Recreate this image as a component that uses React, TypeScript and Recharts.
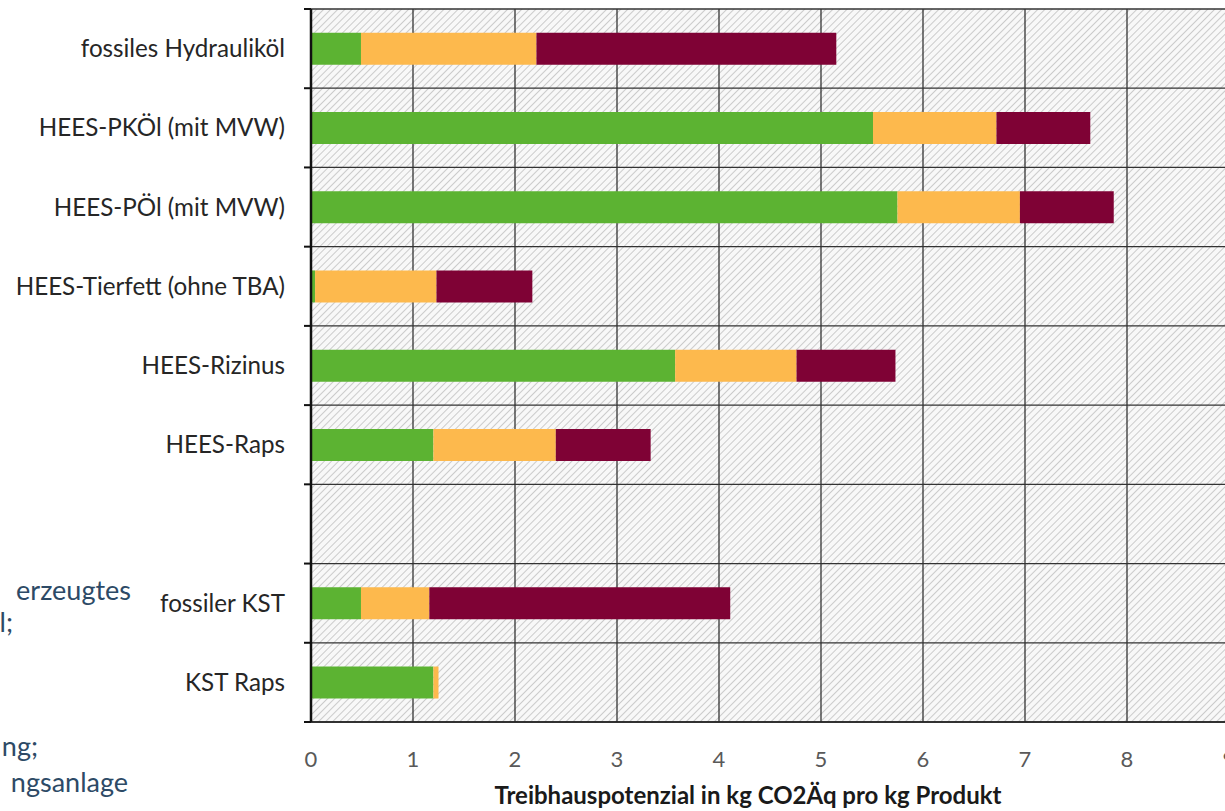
import { Bar, BarChart, CartesianGrid, XAxis, YAxis } from 'recharts'

const categories = [
  'fossiles Hydrauliköl',
  'HEES-PKÖl (mit MVW)',
  'HEES-PÖl (mit MVW)',
  'HEES-Tierfett (ohne TBA)',
  'HEES-Rizinus',
  'HEES-Raps',
  '',
  'fossiler KST',
  'KST Raps',
]

// three stacked shares per product, kg CO2Äq per kg
const anbau = [0.49, 5.51, 5.75, 0.04, 3.57, 1.2, 0, 0.49, 1.2]
const herstellung = [1.72, 1.21, 1.2, 1.19, 1.19, 1.2, 0, 0.67, 0.05]
const entsorgung = [2.94, 0.92, 0.92, 0.94, 0.97, 0.93, 0, 2.95, 0]

const xTicks = [0, 1, 2, 3, 4, 5, 6, 7, 8, 9]

const sideNotes = [
  { text: 'erzeugtes', x: 131, y: 600 },
  { text: 'l;', x: 13, y: 632 },
  { text: 'ng;', x: 38, y: 756 },
  { text: 'ngsanlage', x: 128, y: 792 },
]

const data = categories.map((name, i) => ({
  name,
  anbau: anbau[i],
  herstellung: herstellung[i],
  entsorgung: entsorgung[i],
}))

const FONT = 'Lato, sans-serif'
const TICK_SIZE = 7
const TICK_MARGIN = 19

// category label plus a short tick mark on the band's upper edge
// (and lower edge for the last band)
function CategoryTick(props: any) {
  const { x, y, payload, index } = props
  const axisX = x + TICK_SIZE + TICK_MARGIN
  const half = payload.offset ?? 0
  return (
    <g>
      <line x1={axisX - TICK_SIZE} x2={axisX} y1={y - half} y2={y - half} stroke="#111" strokeWidth={2} />
      {index === categories.length - 1 && (
        <line x1={axisX - TICK_SIZE} x2={axisX} y1={y + half} y2={y + half} stroke="#111" strokeWidth={2} />
      )}
      <text x={x} y={y} dy="0.35em" textAnchor="end" fill="#262626" fontSize={24.2} fontFamily={FONT}>
        {payload.value}
      </text>
    </g>
  )
}

// horizontal grid lines on the band edges of the category axis
function bandEdges({ offset }: any) {
  const step = offset.height / categories.length
  return [...categories.map((_, i) => offset.top + i * step), offset.top + offset.height]
}

export default function App() {
  return (
    <div
      style={{
        position: 'absolute',
        left: 0,
        top: 0,
        width: 1225,
        height: 811,
        overflow: 'hidden',
        background: '#ffffff',
      }}
    >
      <BarChart
        width={1236}
        height={811}
        data={data}
        layout="vertical"
        barCategoryGap="30%"
        margin={{ top: 9, right: 7, bottom: 0, left: 0 }}
      >
        <defs>
          <pattern
            id="hatch"
            width="5"
            height="5"
            patternUnits="userSpaceOnUse"
            patternTransform="rotate(45)"
          >
            <rect width="5" height="5" fill="#f8f8f8" />
            <line x1="0" y1="0" x2="0" y2="5" stroke="#c6c6c6" strokeWidth="1.8" />
          </pattern>
        </defs>
        <CartesianGrid
          fill="url(#hatch)"
          stroke="#333333"
          strokeWidth={1.3}
          horizontalCoordinatesGenerator={bandEdges}
        />
        <XAxis
          type="number"
          domain={[0, 9]}
          ticks={xTicks}
          interval={0}
          height={89}
          stroke="#222222"
          strokeWidth={1.5}
          tickLine={false}
          tickMargin={23}
          tick={{ fill: '#595959', fontSize: 22, fontFamily: FONT }}
          label={{
            content: ({ viewBox }: any) => (
              <text
                x={viewBox.x + viewBox.width / 2 - 22}
                y={viewBox.y + viewBox.height - 7}
                textAnchor="middle"
                fill="#1a1a1a"
                fontSize={24}
                fontWeight="bold"
                fontFamily={FONT}
              >
                Treibhauspotenzial in kg CO2Äq pro kg Produkt
              </text>
            ),
          }}
        />
        <YAxis
          type="category"
          dataKey="name"
          width={311}
          interval={0}
          stroke="#111111"
          strokeWidth={2.5}
          tickLine={false}
          tickSize={TICK_SIZE}
          tickMargin={TICK_MARGIN}
          tick={<CategoryTick />}
        />
        <Bar dataKey="anbau" stackId="a" fill="#5cb332" isAnimationActive={false} />
        <Bar dataKey="herstellung" stackId="a" fill="#fdb94d" isAnimationActive={false} />
        <Bar dataKey="entsorgung" stackId="a" fill="#7f0235" isAnimationActive={false} />
      </BarChart>
      <svg
        width={1225}
        height={811}
        style={{ position: 'absolute', left: 0, top: 0, pointerEvents: 'none' }}
      >
        {sideNotes.map((n) => (
          <text
            key={n.text}
            x={n.x}
            y={n.y}
            textAnchor="end"
            fill="#2d4a66"
            fontSize={27}
            fontFamily={FONT}
          >
            {n.text}
          </text>
        ))}
      </svg>
    </div>
  )
}
